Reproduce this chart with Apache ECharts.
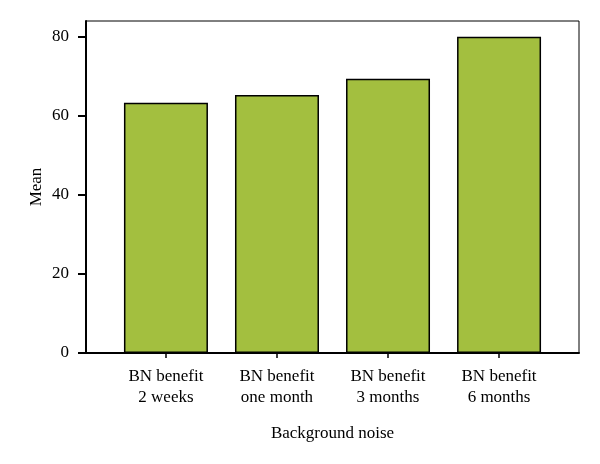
<!DOCTYPE html>
<html>
<head>
<meta charset="utf-8">
<script src="https://cdn.jsdelivr.net/npm/echarts@6/dist/echarts.min.js"></script>
<style>html,body{margin:0;padding:0;background:#fff}#c{width:600px;height:464px}</style>
</head>
<body>
<div id="c"></div>
<script>
var categories = ["BN benefit\n2 weeks", "BN benefit\none month", "BN benefit\n3 months", "BN benefit\n6 months"];
var means = [63.3, 65.3, 69.4, 80.0];
var yTicks = [0, 20, 40, 60, 80];
var positions = [0, 1, 2, 3];

var chart = echarts.init(document.getElementById('c'));
var font = '"Liberation Serif", "DejaVu Serif", serif';
chart.setOption({
  animation: false,
  backgroundColor: '#fff',
  grid: { left: 86, right: 21, top: 21, bottom: 111, show: true, borderColor: '#000', borderWidth: 1, containLabel: false },
  xAxis: {
    type: 'value', min: -0.72, max: 3.72,
    name: 'Background noise', nameLocation: 'middle', nameGap: 72,
    nameTextStyle: { color: '#000', fontFamily: font, fontSize: 17 },
    axisLine: { show: true, onZero: false, lineStyle: { color: '#000', width: 2 } },
    axisTick: { show: true, customValues: positions, length: 5, lineStyle: { color: '#000', width: 1.5 } },
    axisLabel: { customValues: positions, color: '#000', fontFamily: font, fontSize: 17, lineHeight: 21, margin: 13,
      formatter: function (v) { return categories[Math.round(v)] || ''; } },
    splitLine: { show: false }
  },
  yAxis: {
    type: 'value', min: 0, max: 84,
    name: 'Mean', nameLocation: 'middle', nameGap: 41, nameRotate: 90, nameMoveOverlap: false,
    nameTextStyle: { color: '#000', fontFamily: font, fontSize: 17 },
    axisLine: { show: true, onZero: false, lineStyle: { color: '#000', width: 2 } },
    axisTick: { show: true, customValues: yTicks, length: 8, lineStyle: { color: '#000', width: 2 } },
    axisLabel: { customValues: yTicks, color: '#000', fontFamily: font, fontSize: 17, margin: 17 },
    splitLine: { show: false }
  },
  series: [{
    type: 'bar',
    data: positions.map(function (p, i) { return [p, means[i]]; }),
    barWidth: 84,
    itemStyle: { color: '#a3bf3f', borderColor: '#000', borderWidth: 1.5 }
  }]
});
</script>
</body>
</html>
